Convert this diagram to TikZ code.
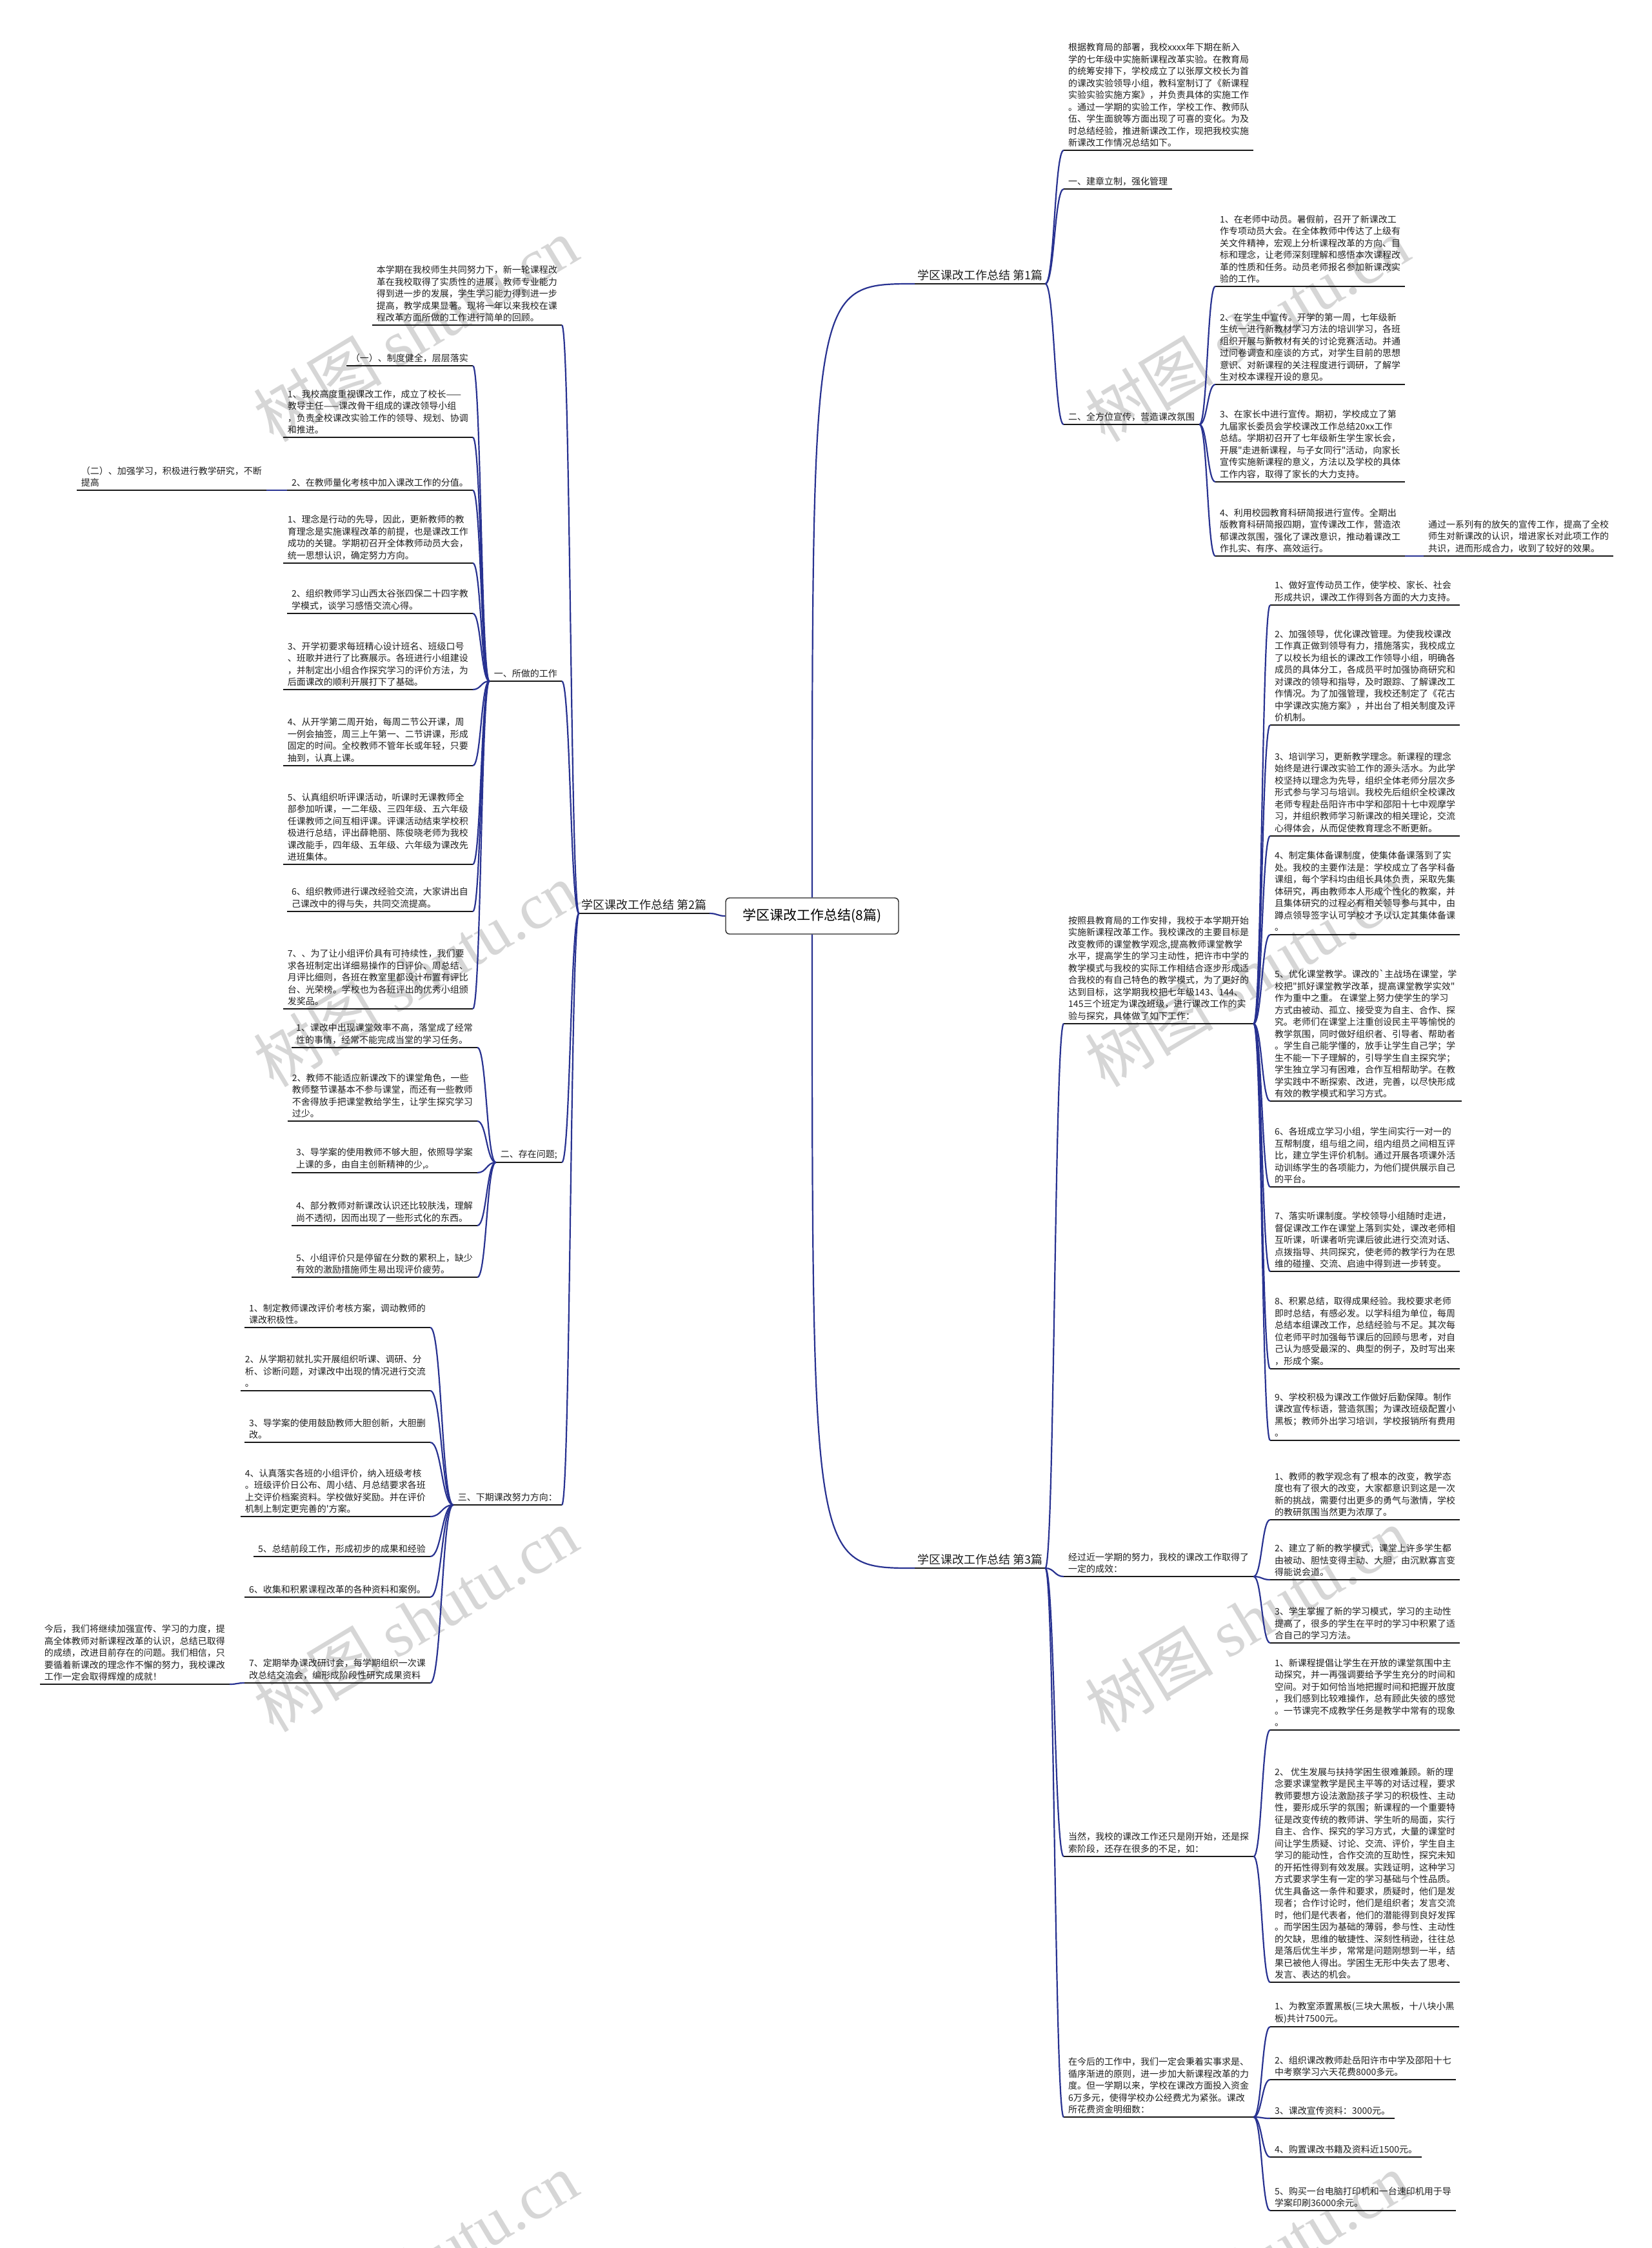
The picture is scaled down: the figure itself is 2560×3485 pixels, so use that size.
\documentclass[tikz,border=0pt]{standalone}
\usepackage{fontspec}
\newfontfamily\cjk{Noto Sans CJK SC}
\newfontfamily\wmser{Liberation Serif}
\usetikzlibrary{calc}
\definecolor{cnav}{RGB}{40,50,145}
\definecolor{uln}{RGB}{25,25,25}
\newcommand\lk[2]{\draw[conn] let \p1=(#1), \p2=(#2) in (\p1) .. controls ({(\x1+\x2)/2},\y1) and ({(\x1+\x2)/2},\y2) .. (\p2);}
\begin{document}
\begin{tikzpicture}[x=1pt,y=-1pt,
  every node/.style={font=\cjk\fontsize{14}{18.5}\selectfont, text=black!88},
  uline/.style={draw=uln, line width=2pt},
  conn/.style={draw=cnav, line width=2.2pt},
  tr/.style={inner xsep=7pt, inner ysep=5pt, align=left, anchor=south west,
    append after command={(\tikzlastnode.south west) edge[uline] (\tikzlastnode.south east)}},
  tl/.style={tr, anchor=south east},
  br/.style={tr, font=\cjk\fontsize{18}{22}\selectfont, inner xsep=4pt},
  bl/.style={br, anchor=south east},
  wm/.style={rotate=31, text=black!16, font=\cjk\fontsize{100}{100}\selectfont}
]
\fill[white] (0,0) rectangle (2560,3485);
\useasboundingbox (0,0) rectangle (2560,3485);
% watermarks
\foreach \wx in {644,1933}{\foreach \wy in {511,1511,2511,3511}{
  \node[wm] (wm-\wx-\wy) at (\wx,\wy) {树图 {\wmser shutu.cn}};}}

% root
\node[draw=black!85, line width=1.4pt, rounded corners=6pt, fill=white, minimum width=268pt, minimum height=56pt, font=\cjk\fontsize{21}{25}\selectfont, text=black] (root) at (1259,1420) {学区课改工作总结(8篇)};

% ---------- branch 1 (right)
\node[br] (b1) at (1418,440) {学区课改工作总结 第1篇};
\node[tr] (i1) at (1649,233) {根据教育局的部署，我校xxxx年下期在新入\\学的七年级中实施新课程改革实验。在教育局\\的统筹安排下，学校成立了以张厚文校长为首\\的课改实验领导小组，教科室制订了《新课程\\实验实验实施方案》，并负责具体的实施工作\\。通过一学期的实验工作，学校工作、教师队\\伍、学生面貌等方面出现了可喜的变化。为及\\时总结经验，推进新课改工作，现把我校实施\\新课改工作情况总结如下。};
\node[tr] (s1a) at (1649,293) {一、建章立制，强化管理};
\node[tr] (s1b) at (1649,658) {二、全方位宣传，营造课改氛围};
\node[tr] (p1) at (1884,444) {1、在老师中动员。暑假前，召开了新课改工\\作专项动员大会。在全体教师中传达了上级有\\关文件精神，宏观上分析课程改革的方向、目\\标和理念，让老师深刻理解和感悟本次课程改\\革的性质和任务。动员老师报名参加新课改实\\验的工作。};
\node[tr] (p2) at (1884,596) {2、在学生中宣传。开学的第一周，七年级新\\生统一进行新教材学习方法的培训学习，各班\\组织开展与新教材有关的讨论竞赛活动。并通\\过问卷调查和座谈的方式，对学生目前的思想\\意识、对新课程的关注程度进行调研，了解学\\生对校本课程开设的意见。};
\node[tr] (p3) at (1884,747) {3、在家长中进行宣传。期初，学校成立了第\\九届家长委员会学校课改工作总结20xx工作\\总结。学期初召开了七年级新生学生家长会，\\开展"走进新课程，与子女同行"活动，向家长\\宣传实施新课程的意义，方法以及学校的具体\\工作内容，取得了家长的大力支持。};
\node[tr] (p4) at (1884,862) {4、利用校园教育科研简报进行宣传。全期出\\版教育科研简报四期，宣传课改工作，营造浓\\郁课改氛围，强化了课改意识，推动着课改工\\作扎实、有序、高效运行。};
\node[tr] (nt) at (2207,862) {通过一系列有的放矢的宣传工作，提高了全校\\师生对新课改的认识，增进家长对此项工作的\\共识，进而形成合力，收到了较好的效果。};

% ---------- branch 3 (right)
\node[br] (b3) at (1418,2431) {学区课改工作总结 第3篇};
\node[tr] (A) at (1649,1587) {按照县教育局的工作安排，我校于本学期开始\\实施新课程改革工作。我校课改的主要目标是\\改变教师的课堂教学观念,提高教师课堂教学\\水平，提高学生的学习主动性，把许市中学的\\教学模式与我校的实际工作相结合逐步形成适\\合我校的有自己特色的教学模式，为了更好的\\达到目标，这学期我校把七年级143、144、\\145三个班定为课改班级，进行课改工作的实\\验与探究，具体做了如下工作：};
\node[tr] (B) at (1649,2444) {经过近一学期的努力，我校的课改工作取得了\\一定的成效：};
\node[tr] (C) at (1649,2878) {当然，我校的课改工作还只是刚开始，还是探\\索阶段，还存在很多的不足，如：};
\node[tr] (D) at (1649,3282) {在今后的工作中，我们一定会秉着实事求是、\\循序渐进的原则，进一步加大新课程改革的力\\度。但一学期以来，学校在课改方面投入资金\\6万多元，使得学校办公经费尤为紧张。课改\\所花费资金明细数：};

\node[tr] (a1) at (1969,938) {1、做好宣传动员工作，使学校、家长、社会\\形成共识，课改工作得到各方面的大力支持。};
\node[tr] (a2) at (1969,1124) {2、加强领导，优化课改管理。为使我校课改\\工作真正做到领导有力，措施落实，我校成立\\了以校长为组长的课改工作领导小组，明确各\\成员的具体分工，各成员平时加强协商研究和\\对课改的领导和指导，及时跟踪、了解课改工\\作情况。为了加强管理，我校还制定了《花古\\中学课改实施方案》，并出台了相关制度及评\\价机制。};
\node[tr] (a3) at (1969,1296) {3、培训学习，更新教学理念。新课程的理念\\始终是进行课改实验工作的源头活水。为此学\\校坚持以理念为先导，组织全体老师分层次多\\形式参与学习与培训。我校先后组织全校课改\\老师专程赴岳阳许市中学和邵阳十七中观摩学\\习，并组织教师学习新课改的相关理论，交流\\心得体会，从而促使教育理念不断更新。};
\node[tr] (a4) at (1969,1449) {4、制定集体备课制度，使集体备课落到了实\\处。我校的主要作法是：学校成立了各学科备\\课组，每个学科均由组长具体负责，采取先集\\体研究，再由教师本人形成个性化的教案，并\\且集体研究的过程必有相关领导参与其中，由\\蹲点领导签字认可学校才予以认定其集体备课\\。};
\node[tr] (a5) at (1969,1707) {5、优化课堂教学。课改的`主战场在课堂，学\\校把"抓好课堂教学改革，提高课堂教学实效"\\作为重中之重。 在课堂上努力使学生的学习\\方式由被动、孤立、接受变为自主、合作、探\\究。老师们在课堂上注重创设民主平等愉悦的\\教学氛围，同时做好组织者、引导者、帮助者\\。学生自己能学懂的，放手让学生自己学；学\\生不能一下子理解的，引导学生自主探究学；\\学生独立学习有困难，合作互相帮助学。在教\\学实践中不断探索、改进，完善，以尽快形成\\有效的教学模式和学习方式。};
\node[tr] (a6) at (1969,1840) {6、各班成立学习小组，学生间实行一对一的\\互帮制度，组与组之间，组内组员之间相互评\\比，建立学生评价机制。通过开展各项课外活\\动训练学生的各项能力，为他们提供展示自己\\的平台。};
\node[tr] (a7) at (1969,1971) {7、落实听课制度。学校领导小组随时走进，\\督促课改工作在课堂上落到实处，课改老师相\\互听课，听课者听完课后彼此进行交流对话、\\点拨指导、共同探究，使老师的教学行为在思\\维的碰撞、交流、启迪中得到进一步转变。};
\node[tr] (a8) at (1969,2122) {8、积累总结，取得成果经验。我校要求老师\\即时总结，有感必发。以学科组为单位，每周\\总结本组课改工作，总结经验与不足。其次每\\位老师平时加强每节课后的回顾与思考，对自\\己认为感受最深的、典型的例子，及时写出来\\，形成个案。};
\node[tr] (a9) at (1969,2233) {9、学校积极为课改工作做好后勤保障。制作\\课改宣传标语，营造氛围；为课改班级配置小\\黑板；教师外出学习培训，学校报销所有费用\\。};

\node[tr] (bb1) at (1969,2356) {1、教师的教学观念有了根本的改变，教学态\\度也有了很大的改变，大家都意识到这是一次\\新的挑战，需要付出更多的勇气与激情，学校\\的教研氛围当然更为浓厚了。};
\node[tr] (bb2) at (1969,2449) {2、建立了新的教学模式，课堂上许多学生都\\由被动、胆怯变得主动、大胆，由沉默寡言变\\得能说会道。};
\node[tr] (bb3) at (1969,2547) {3、学生掌握了新的学习模式，学习的主动性\\提高了，很多的学生在平时的学习中积累了适\\合自己的学习方法。};

\node[tr] (c1) at (1969,2682) {1、新课程提倡让学生在开放的课堂氛围中主\\动探究，并一再强调要给予学生充分的时间和\\空间。对于如何恰当地把握时间和把握开放度\\，我们感到比较难操作，总有顾此失彼的感觉\\。一节课完不成教学任务是教学中常有的现象\\。};
\node[tr] (c2) at (1969,3073) {2、 优生发展与扶持学困生很难兼顾。新的理\\念要求课堂教学是民主平等的对话过程，要求\\教师要想方设法激励孩子学习的积极性、主动\\性，要形成乐学的氛围；新课程的一个重要特\\征是改变传统的教师讲、学生听的局面，实行\\自主、合作、探究的学习方式，大量的课堂时\\间让学生质疑、讨论、交流、评价，学生自主\\学习的能动性，合作交流的互助性，探究未知\\的开拓性得到有效发展。实践证明，这种学习\\方式要求学生有一定的学习基础与个性品质。\\优生具备这一条件和要求，质疑时，他们是发\\现者；合作讨论时，他们是组织者；发言交流\\时，他们是代表者，他们的潜能得到良好发挥\\。而学困生因为基础的薄弱，参与性、主动性\\的欠缺，思维的敏捷性、深刻性稍逊，往往总\\是落后优生半步，常常是问题刚想到一半，结\\果已被他人得出。学困生无形中失去了思考、\\发言、表达的机会。};

\node[tr] (d1) at (1969,3142) {1、为教室添置黑板(三块大黑板，十八块小黑\\板)共计7500元。};
\node[tr] (d2) at (1969,3224) {2、组织课改教师赴岳阳许市中学及邵阳十七\\中考察学习六天花费8000多元。};
\node[tr] (d3) at (1969,3284) {3、课改宣传资料：3000元。};
\node[tr] (d4) at (1969,3344) {4、购置课改书籍及资料近1500元。};
\node[tr] (d5) at (1969,3427) {5、购买一台电脑打印机和一台速印机用于导\\学案印刷36000余元。};

% ---------- branch 2 (left)
\node[bl] (b2) at (1100,1416) {学区课改工作总结 第2篇};
\node[tl] (i2) at (871,504) {本学期在我校师生共同努力下，新一轮课程改\\革在我校取得了实质性的进展，教师专业能力\\得到进一步的发展，学生学习能力得到进一步\\提高，教学成果显著。现将一年以来我校在课\\程改革方面所做的工作进行简单的回顾。};
\node[tl] (L1) at (871,1056) {一、所做的工作};
\node[tl] (L2) at (871,1802) {二、存在问题;};
\node[tl] (L3) at (871,2333) {三、下期课改努力方向：};

\node[tl] (l0) at (733,567) {（一）、制度健全，层层落实};
\node[tl] (l1) at (733,678) {1、我校高度重视课改工作，成立了校长——\\教导主任——课改骨干组成的课改领导小组\\，负责全校课改实验工作的领导、规划、协调\\和推进。};
\node[tl] (l2) at (733,760) {2、在教师量化考核中加入课改工作的分值。};
\node[tl] (er) at (413,760) {（二）、加强学习，积极进行教学研究，不断\\提高};
\node[tl] (m1) at (733,873) {1、理念是行动的先导，因此，更新教师的教\\育理念是实施课程改革的前提，也是课改工作\\成功的关键。学期初召开全体教师动员大会，\\统一思想认识，确定努力方向。};
\node[tl] (m2) at (733,951) {2、组织教师学习山西太谷张四保二十四字教\\学模式，谈学习感悟交流心得。};
\node[tl] (m3) at (733,1069) {3、开学初要求每班精心设计班名、班级口号\\、班歌并进行了比赛展示。各班进行小组建设\\，并制定出小组合作探究学习的评价方法，为\\后面课改的顺利开展打下了基础。};
\node[tl] (m4) at (733,1187) {4、从开学第二周开始，每周二节公开课，周\\一例会抽签，周三上午第一、二节讲课，形成\\固定的时间。全校教师不管年长或年轻，只要\\抽到，认真上课。};
\node[tl] (m5) at (733,1340) {5、认真组织听评课活动，听课时无课教师全\\部参加听课，一二年级、三四年级、五六年级\\任课教师之间互相评课。评课活动结束学校积\\极进行总结，评出薛艳丽、陈俊晓老师为我校\\课改能手，四年级、五年级、六年级为课改先\\进班集体。};
\node[tl] (m6) at (733,1413) {6、组织教师进行课改经验交流，大家讲出自\\己课改中的得与失，共同交流提高。};
\node[tl] (m7) at (733,1564) {7、、为了让小组评价具有可持续性，我们要\\求各班制定出详细易操作的日评价、周总结、\\月评比细则，各班在教室里都设计布置有评比\\台、光荣榜。学校也为各班评出的优秀小组颁\\发奖品。};

\node[tl] (q1) at (740,1624) {1、课改中出现课堂效率不高，落堂成了经常\\性的事情，经常不能完成当堂的学习任务。};
\node[tl] (q2) at (740,1738) {2、教师不能适应新课改下的课堂角色，一些\\教师整节课基本不参与课堂，而还有一些教师\\不舍得放手把课堂教给学生，让学生探究学习\\过少。};
\node[tl] (q3) at (740,1818) {3、导学案的使用教师不够大胆，依照导学案\\上课的多，由自主创新精神的少,。};
\node[tl] (q4) at (740,1900) {4、部分教师对新课改认识还比较肤浅，理解\\尚不透彻，因而出现了一些形式化的东西。};
\node[tl] (q5) at (740,1980) {5、小组评价只是停留在分数的累积上，缺少\\有效的激励措施师生易出现评价疲劳。};

\node[tl] (r1) at (667,2058) {1、制定教师课改评价考核方案，调动教师的\\课改积极性。};
\node[tl] (r2) at (667,2156) {2、从学期初就扎实开展组织听课、调研、分\\析、诊断问题，对课改中出现的情况进行交流\\。};
\node[tl] (r3) at (667,2236) {3、导学案的使用鼓励教师大胆创新，大胆删\\改。};
\node[tl] (r4) at (667,2351) {4、认真落实各班的小组评价，纳入班级考核\\。班级评价日公布、周小结、月总结要求各班\\上交评价档案资料。学校做好奖励。并在评价\\机制上制定更完善的'方案。};
\node[tl] (r5) at (667,2413) {5、总结前段工作，形成初步的成果和经验};
\node[tl] (r6) at (667,2476) {6、收集和积累课程改革的各种资料和案例。};
\node[tl] (r7) at (667,2609) {7、定期举办课改研讨会，每学期组织一次课\\改总结交流会，编形成阶段性研究成果资料};
\node[tl] (jh) at (356,2611) {今后，我们将继续加强宣传、学习的力度，提\\高全体教师对新课程改革的认识，总结已取得\\的成绩，改进目前存在的问题。我们相信，只\\要循着新课改的理念作不懈的努力，我校课改\\工作一定会取得辉煌的成就！};

% ---------- connectors
\draw[conn] (root.north) .. controls (root.north |- b1.south west) .. (b1.south west);
\draw[conn] (root.south) .. controls (root.south |- b3.south west) .. (b3.south west);
\lk{root.west}{b2.south east}
\foreach \nm in {i1,s1a,s1b}{\lk{b1.south east}{\nm.south west}}
\foreach \nm in {p1,p2,p3,p4}{\lk{s1b.south east}{\nm.south west}}
\lk{p4.south east}{nt.south west}
\foreach \nm in {A,B,C,D}{\lk{b3.south east}{\nm.south west}}
\foreach \nm in {a1,a2,a3,a4,a5,a6,a7,a8,a9}{\lk{A.south east}{\nm.south west}}
\foreach \nm in {bb1,bb2,bb3}{\lk{B.south east}{\nm.south west}}
\foreach \nm in {c1,c2}{\lk{C.south east}{\nm.south west}}
\foreach \nm in {d1,d2,d3,d4,d5}{\lk{D.south east}{\nm.south west}}
\foreach \nm in {i2,L1,L2,L3}{\lk{b2.south west}{\nm.south east}}
\foreach \nm in {l0,l1,l2,m1,m2,m3,m4,m5,m6,m7}{\lk{L1.south west}{\nm.south east}}
\lk{l2.south west}{er.south east}
\foreach \nm in {q1,q2,q3,q4,q5}{\lk{L2.south west}{\nm.south east}}
\foreach \nm in {r1,r2,r3,r4,r5,r6,r7}{\lk{L3.south west}{\nm.south east}}
\lk{r7.south west}{jh.south east}
\end{tikzpicture}
\end{document}
